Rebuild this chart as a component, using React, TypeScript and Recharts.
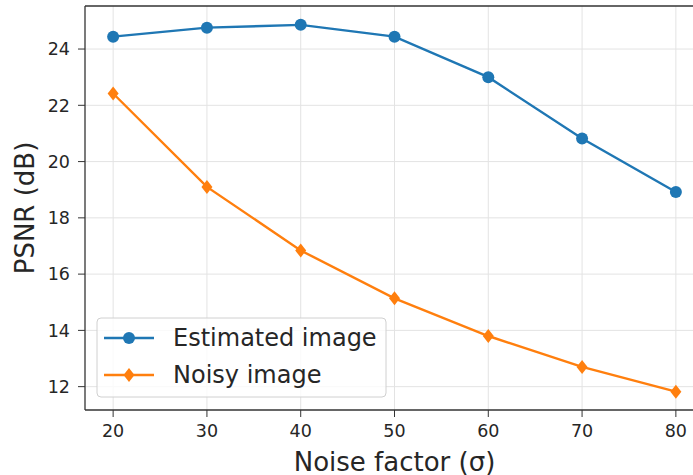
import React from 'react';
import { LineChart, Line, XAxis, YAxis, CartesianGrid, ReferenceLine } from 'recharts';

const noiseFactors = [20, 30, 40, 50, 60, 70, 80];
const estimatedPsnr = [24.44, 24.76, 24.86, 24.44, 23.0, 20.82, 18.92];
const noisyPsnr = [22.42, 19.1, 16.84, 15.14, 13.8, 12.7, 11.82];
const xTicks = [20, 30, 40, 50, 60, 70, 80];
const yTicks = [12, 14, 16, 18, 20, 22, 24];
const seriesNames = ['Estimated image', 'Noisy image'];

const data = noiseFactors.map((x, i) => ({ x, est: estimatedPsnr[i], noisy: noisyPsnr[i] }));

const BLUE = '#1f77b4';
const ORANGE = '#ff7f0e';
const FONT = '"DejaVu Sans", sans-serif';
const Y_MIN = 11.17;
const Y_MAX = 25.53;

const Diamond = (props: any) => {
  const { cx, cy } = props;
  if (cx == null || cy == null) return null;
  return <polygon points={`${cx},${cy - 7} ${cx + 5.5},${cy} ${cx},${cy + 7} ${cx - 5.5},${cy}`} fill={ORANGE} />;
};

const Circle = (props: any) => {
  const { cx, cy } = props;
  if (cx == null || cy == null) return null;
  return <circle cx={cx} cy={cy} r={6} fill={BLUE} />;
};

const LegendBox = () => (
  <svg width={292} height={82} style={{ display: 'block' }}>
    <rect x={1} y={1} width={289} height={79} rx={4} ry={4} fill="rgba(255,255,255,0.8)" stroke="#d0d0d0" strokeWidth={1} />
    <line x1={8} x2={58} y1={21} y2={21} stroke={BLUE} strokeWidth={2.4} />
    <circle cx={33} cy={21} r={6} fill={BLUE} />
    <text x={77} y={21} dominantBaseline="central" fontFamily={FONT} fontSize={24} fill="#262626">{seriesNames[0]}</text>
    <line x1={8} x2={58} y1={58} y2={58} stroke={ORANGE} strokeWidth={2.4} />
    <polygon points={`33,51 38.5,58 33,65 27.5,58`} fill={ORANGE} />
    <text x={77} y={58} dominantBaseline="central" fontFamily={FONT} fontSize={24} fill="#262626">{seriesNames[1]}</text>
  </svg>
);

export default function App() {
  return (
    <div style={{ position: 'absolute', left: 0, top: 0, width: 693, height: 475, overflow: 'hidden', background: '#fff' }}>
      <LineChart width={720} height={475} data={data} margin={{ top: 6, right: 16, bottom: 0, left: 0 }}>
        <CartesianGrid stroke="#e3e3e3" strokeWidth={1} horizontalValues={yTicks} verticalValues={xTicks} />
        <XAxis
          dataKey="x"
          type="number"
          domain={[17, 83]}
          ticks={xTicks}
          height={65}
          tickSize={7}
          tickMargin={8}
          axisLine={{ stroke: '#333', strokeWidth: 1.3 }}
          tickLine={{ stroke: '#333', strokeWidth: 1 }}
          tick={{ fontFamily: FONT, fontSize: 17.5, fill: '#262626' }}
          label={(p: any) => {
            const vb = p.viewBox;
            return (
              <text x={vb.x + vb.width / 2} y={vb.y + 52} textAnchor="middle" dominantBaseline="central" fontFamily={FONT} fontSize={26} fill="#262626">
                Noise factor (σ)
              </text>
            );
          }}
        />
        <YAxis
          type="number"
          domain={[Y_MIN, Y_MAX]}
          ticks={yTicks}
          width={85}
          tickSize={7}
          tickMargin={8}
          allowDataOverflow
          axisLine={{ stroke: '#333', strokeWidth: 1.3 }}
          tickLine={{ stroke: '#333', strokeWidth: 1 }}
          tick={{ fontFamily: FONT, fontSize: 17.5, fill: '#262626' }}
          label={(p: any) => {
            const vb = p.viewBox;
            const cx = 25;
            const cy = vb.y + vb.height / 2;
            return (
              <text x={cx} y={cy} transform={`rotate(-90, ${cx}, ${cy})`} textAnchor="middle" dominantBaseline="central" fontFamily={FONT} fontSize={26} fill="#262626">
                PSNR (dB)
              </text>
            );
          }}
        />
        <ReferenceLine y={Y_MAX} stroke="#333" strokeWidth={1.3} />
        <Line type="linear" dataKey="est" name={seriesNames[0]} stroke={BLUE} strokeWidth={2.4} dot={<Circle />} activeDot={false} isAnimationActive={false} />
        <Line type="linear" dataKey="noisy" name={seriesNames[1]} stroke={ORANGE} strokeWidth={2.4} dot={<Diamond />} activeDot={false} isAnimationActive={false} />
      </LineChart>
      <div style={{ position: 'absolute', left: 96, top: 317 }}>
        <LegendBox />
      </div>
    </div>
  );
}
